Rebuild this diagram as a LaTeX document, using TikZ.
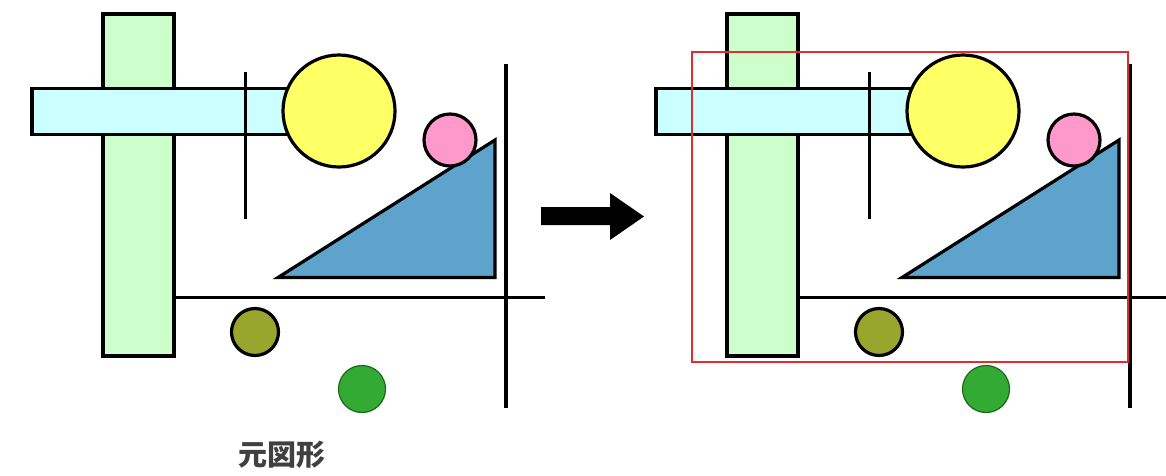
\documentclass[tikz,border=0pt]{standalone}
\usepackage{fontspec}
\newfontfamily\jpfont{Noto Sans CJK JP}
\definecolor{barGreen}{RGB}{204,255,204}
\definecolor{barCyan}{RGB}{204,255,255}
\definecolor{sunYellow}{RGB}{255,255,102}
\definecolor{ballPink}{RGB}{255,153,204}
\definecolor{slopeBlue}{RGB}{94,163,204}
\definecolor{ballOlive}{RGB}{153,165,45}
\definecolor{ballGreen}{RGB}{51,170,51}
\definecolor{frameRed}{RGB}{225,45,50}

\begin{document}
\begin{tikzpicture}[x=1pt,y=-1pt,line width=3.2pt]
  \useasboundingbox (0,0) rectangle (1166,475);
  \foreach \dx in {0,624} {
  \begin{scope}[xshift=\dx pt]
  \draw[fill=barGreen] (103,14) rectangle (174,356);
  \draw[fill=barCyan] (32,88.5) rectangle (320,134.5);
  \draw[fill=sunYellow] (339,111) circle [radius=56pt];
  \draw (245.5,72) -- (245.5,219);
  \draw[fill=slopeBlue,line join=miter] (278,277.5) -- (495,140) -- (495,277.5) -- cycle;
  \draw[fill=ballPink] (450,140) circle [radius=26pt];
  \draw (506,64) -- (506,408);
  \draw (175,297.5) -- (545,297.5);
  \draw[fill=ballOlive] (255,332) circle [radius=23.5pt];
  \draw[ballGreen!60!black,fill=ballGreen,line width=1.2pt] (362,389) circle [radius=23.5pt];
\end{scope}
  }
  \fill (541,207) -- (610,207) -- (610,193) -- (644,216.5) -- (610,240)
    -- (610,225) -- (541,225) -- cycle;
  \draw[frameRed,line width=2pt] (692,52) rectangle (1128,362);
  \node[text=black!75] (caption) at (282,455)
    {\jpfont\bfseries\fontsize{29}{30}\selectfont 元図形};
\end{tikzpicture}
\end{document}
